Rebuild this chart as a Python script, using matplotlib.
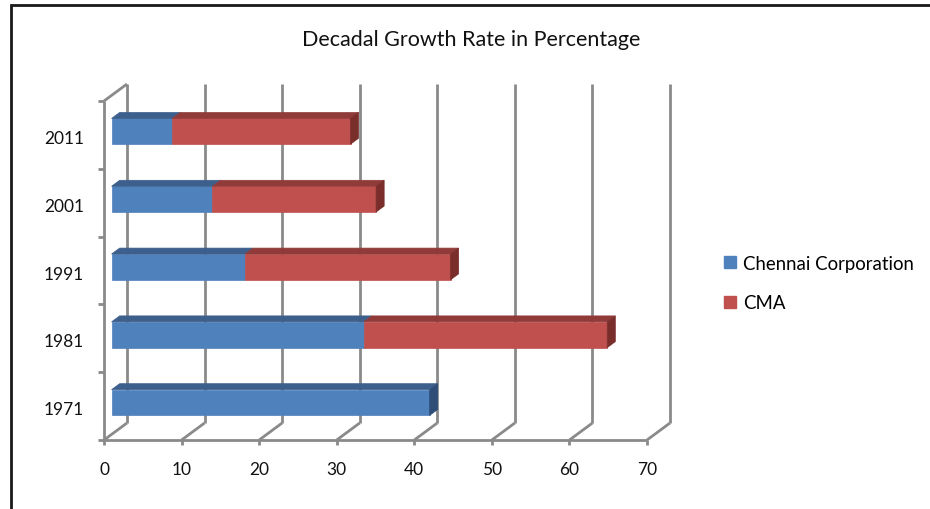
import matplotlib.pyplot as plt
from matplotlib.patches import Polygon, Rectangle, Patch
from matplotlib.transforms import IdentityTransform

years = ['1971', '1981', '1991', '2001', '2011']
chennai_corp = [41.0, 32.5, 17.2, 13.0, 7.8]
cma = [0.0, 31.4, 26.5, 21.1, 23.0]
x_ticks = [0, 10, 20, 30, 40, 50, 60, 70]

plt.rcParams['font.family'] = ['Lato', 'DejaVu Sans']

W, H = 930, 510
fig = plt.figure(figsize=(W / 100, H / 100), dpi=100)
ax = fig.add_axes([104 / W, (H - 441) / H, (647 - 104) / W, (441 - 102) / H])
ax.set_xlim(0, 70)
ax.set_ylim(-0.5, 4.5)
ax.axis('off')

# depth of the 3-D box in pixels (right, up)
DX, DY = 23, 17
PIX = IdentityTransform()


def proj(x, y, d=0.0):
    px, py = ax.transData.transform((x, y))
    return px + d * DX, py + d * DY


def seg(p, q, color='#8a8a8a', lw=2.0):
    ax.plot([p[0], q[0]], [p[1], q[1]], color=color, lw=lw,
            transform=PIX, clip_on=False, solid_capstyle='butt', zorder=1)


def face(pts, color):
    ax.add_patch(Polygon(pts, closed=True, facecolor=color, edgecolor=color,
                         lw=0.5, transform=PIX, clip_on=False, zorder=3))


# back wall gridlines, floor lines and ticks
for t in x_ticks:
    seg(proj(t, -0.5, 1), proj(t, 4.5, 1))
    seg(proj(t, -0.5, 0), proj(t, -0.5, 1))
    x0, y0 = proj(t, -0.5)
    seg((x0, y0), (x0, y0 - 5))
    ax.text(x0, y0 - 29, str(t), transform=PIX, ha='center', va='center',
            fontsize=12.5, color='#111111')

# front axes of the box
seg(proj(0, -0.5), proj(70, -0.5))
seg(proj(0, -0.5), proj(0, 4.5))
seg(proj(0, 4.5, 0), proj(0, 4.5, 1))
for k in range(len(years) + 1):
    x0, y0 = proj(0, k - 0.5)
    seg((x0, y0), (x0 - 6, y0))

for i, yr in enumerate(years):
    x0, y0 = proj(0, i)
    ax.text(x0 - 20, y0 - 3, yr, transform=PIX, ha='right', va='center',
            fontsize=12.5, color='#111111')

# stacked 3-D bars
blue = ('#4f81bd', '#3c5f8c', '#2e4e77')
red = ('#c0504d', '#903b39', '#7a2e2c')
d0, d1 = 0.33, 0.68
half = 0.19
for i in range(len(years)):
    left = 0.0
    last = None
    yb, yt = i - 0.03 - half, i - 0.03 + half
    for val, cols in ((chennai_corp[i], blue), (cma[i], red)):
        if val <= 0:
            continue
        right = left + val
        face([proj(left, yb, d0), proj(right, yb, d0),
              proj(right, yt, d0), proj(left, yt, d0)], cols[0])
        face([proj(left, yt, d0), proj(right, yt, d0),
              proj(right, yt, d1), proj(left, yt, d1)], cols[1])
        left = right
        last = cols
    face([proj(left, yb, d0), proj(left, yb, d1),
          proj(left, yt, d1), proj(left, yt, d0)], last[2])

fig.text(471 / W, 1 - 40 / H, 'Decadal Growth Rate in Percentage',
         ha='center', va='center', fontsize=15.5, color='#111111')

fig.legend(handles=[Patch(color=blue[0], label='Chennai Corporation'),
                    Patch(color=red[0], label='CMA')],
           loc='center left', bbox_to_anchor=(724 / W, 1 - 284 / H),
           frameon=False, fontsize=13.4, handlelength=0.62, handleheight=0.62,
           handletextpad=0.4, labelspacing=1.2, borderpad=0, borderaxespad=0)

# chart border
fig.add_artist(Rectangle((11 / W, -0.1), 1.2, 1.1 - 6 / H, transform=fig.transFigure,
                         fill=False, lw=2, ec='#1a1a1a'))

fig.savefig('out.png', dpi=100)
